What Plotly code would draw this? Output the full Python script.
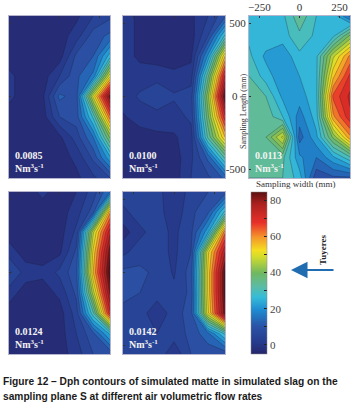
import plotly.graph_objects as go

x_nodes = [-315, -210, -105, 0, 105, 210, 315]
y_nodes = [550, 413, 275, 138, 0, -140, -280, -420, -560]

z_0085 = [
    [-3, -3, -3, -3, -2, 3, 6],
    [-3, -3, -3, -3, 1, 9, 12],
    [-3, -3, -3, -3, 8, 11, 25],
    [0, -3, -3, 3, 10, 16, 50],
    [0, -3, -2, 12, 9, 48, 82],
    [-3, -3, -3, 7, 9, 28, 62],
    [-3, -3, -3, -2, 5, 15, 40],
    [-3, -3, -3, -3, 0, 8, 22],
    [-3, -3, -3, -3, -2, 2, 7],
]
z_0100 = [
    [1, -2, -3, -3, -2, 3, 10],
    [1, -2, -3, -3, -3, 7, 28],
    [1, -2, -3, -3, -2, 20, 55],
    [1, 1, 1.5, 0, 1, 34, 72],
    [1, 3.6, 6, 3.6, 5, 42, 84],
    [-1.5, 1, 1.5, 1, 4, 38, 70],
    [-3, -3, -2, -1.5, 1, 32, 55],
    [-3, -3, -3, -3, 2, 12, 32],
    [-3, -3, -3, -3, 3, 6, 12],
]
z_0113 = [
    [26, 26, 26, 34, 27, 26, 14],
    [26, 26, 25, 30, 26, 26, 40],
    [28, 22, 20, 26, 26, 46, 60],
    [31, 25, 20, 23, 26, 54, 68],
    [33, 31, 22, 21, 26, 64, 72],
    [33, 34, 27, 17, 25, 58, 70],
    [33, 35, 48, 13, 22, 40, 58],
    [33, 34, 32, 20, 15, 22, 30],
    [31, 31, 31, 25, 8, 10, 10],
]
z_0124 = [
    [-3, -3, 0, -3, -1, 5, 15],
    [-3, -3, -3, -3, 1, 9, 58],
    [-3, -3, -3, -3, 4, 46, 74],
    [1, -3, -3, -2, 8, 52, 82],
    [8, 1, 0, 4, 10, 55, 86],
    [1, -3, -3, 0, 8, 45, 80],
    [-3, -3, -3, -3, 5, 30, 70],
    [-3, -3, -3, -3, 3, 10, 24],
    [-3, -3, -3, -3, 1, 7, 8],
]
z_0142 = [
    [5, 5, 5, -1, 5, 7, 9],
    [2, 5, 5, 0, 6, 10, 28],
    [-3, 2, 5, 2, 6, 22, 62],
    [2, 5, 5, 2, 7, 50, 75],
    [8, 8, 6, 2.5, 9, 52, 84],
    [8, 7, 5, 4, 8, 52, 84],
    [6, 5, 0, 5, 9, 50, 82],
    [5, 5, 3, 5, 8, 14, 28],
    [5, 7, 6, 0, 7, 8, 8],
]

panels = [z_0085, z_0100, z_0113, z_0124, z_0142]
flow_rates = ["0.0085", "0.0100", "0.0113", "0.0124", "0.0142"]
caption_lines = ["Figure 12 – Dph contours of simulated matte in simulated slag on the",
                 "sampling plane S at different air volumetric flow rates"]
y_tick_values = [-500, 0, 500]
y_tick_labels = ["-500", "0\u00a0\u00a0\u00a0", "500"]
boxes = [(9, 110, 16, 178), (123, 225, 16, 178), (249, 350, 16, 178),
         (9, 110, 192, 354), (123, 225, 192, 354)]
W, H = 356, 402
zmin, zmax = -5, 84.5

scale = [
    [0.0, "#26266b"], [0.07, "#263a8c"], [0.17, "#2a52a6"], [0.27, "#1f8ad0"],
    [0.35, "#35bcd8"], [0.42, "#5cbca2"], [0.50, "#70b860"], [0.60, "#d2dc2c"],
    [0.64, "#f4de20"], [0.72, "#f5962a"], [0.81, "#e8302a"], [0.93, "#a8201e"],
    [1.0, "#5a1010"],
]

fig = go.Figure()
ax_style = dict(showgrid=False, zeroline=False, ticks="inside", ticklen=2, tickwidth=0.6,
                tickcolor="#333", showline=True, linecolor="#b4b4cc", linewidth=1, mirror=True)
serif = "Liberation Serif"
for i, (z, b) in enumerate(zip(panels, boxes)):
    n = "" if i == 0 else str(i + 1)
    show_labels = i == 2
    fig.add_trace(go.Contour(
        x=x_nodes, y=y_nodes[::-1], z=z[::-1], xaxis="x" + n, yaxis="y" + n,
        zmin=zmin, zmax=zmax, colorscale=scale, autocontour=False,
        contours=dict(start=-5, end=85, size=4, coloring="fill", showlines=True),
        line=dict(width=0.5, color="rgba(30,30,50,0.6)", smoothing=0),
        showscale=False, hoverinfo="skip"))
    fig.update_layout({
        "xaxis" + n: dict(domain=[b[0] / W, b[1] / W], range=[-315, 315], anchor="y" + n,
                          side="top", tickvals=[-250, 0, 250], showticklabels=show_labels,
                          tickfont=dict(family=serif, size=11, color="#333"), **ax_style),
        "yaxis" + n: dict(domain=[1 - b[3] / H, 1 - b[2] / H], range=[-560, 550], anchor="x" + n,
                          tickvals=y_tick_values, ticktext=y_tick_labels, showticklabels=show_labels,
                          tickfont=dict(family=serif, size=11, color="#333"), **ax_style),
    })
    fig.add_annotation(xref="paper", yref="paper", x=(b[0] + 4) / W, y=1 - (b[3] - 16) / H,
                       xanchor="left", yanchor="middle", align="left", showarrow=False,
                       text=f"<b>{flow_rates[i]}<br>Nm<sup>3</sup>s<sup>-1</sup></b>",
                       font=dict(family=serif, size=10, color="#f4f4f4"))

# colour bar, carried by an invisible trace that shares the contour scale
fig.add_trace(go.Heatmap(
    z=[[zmin, zmax]], x=[-315, 315], y=[0], xaxis="x", yaxis="y", opacity=0,
    zmin=zmin, zmax=zmax, colorscale=scale, hoverinfo="skip",
    colorbar=dict(x=251 / W, xanchor="left", xpad=0, y=1 - 354 / H, yanchor="bottom", ypad=0,
                  len=162 / H, lenmode="fraction", thickness=16, thicknessmode="pixels",
                  tickvals=[0, 10, 20, 30, 40, 50, 60, 70, 80],
                  ticktext=["0", "", "20", "", "40", "", "60", "", "80"],
                  ticks="inside", ticklen=3, tickwidth=0.6, tickcolor="#222",
                  tickfont=dict(family=serif, size=11, color="#444"),
                  outlinecolor="#888", outlinewidth=0.5)))

fig.add_annotation(xref="paper", yref="paper", x=243 / W, y=1 - 111 / H, xanchor="center", yanchor="middle",
                   text="Sampling Length (mm)", textangle=-90, showarrow=False,
                   font=dict(family=serif, size=8, color="#333"))
fig.add_annotation(xref="paper", yref="paper", x=296 / W, y=1 - 184 / H, xanchor="center", yanchor="middle",
                   text="Sampling width (mm)", showarrow=False, font=dict(family=serif, size=9, color="#333"))
fig.add_annotation(xref="paper", yref="paper", x=323 / W, y=1 - 250 / H, xanchor="center", yanchor="middle",
                   text="<b>Tuyeres</b>", textangle=-90, showarrow=False,
                   font=dict(family=serif, size=9, color="#222"))
fig.add_annotation(xref="paper", yref="paper", axref="pixel", ayref="pixel",
                   x=291 / W, y=1 - 270 / H, ax=44, ay=0, text="",
                   showarrow=True, arrowhead=2, arrowsize=1.5, arrowwidth=2.2, arrowcolor="#1f6cb0")
for line, y_px in zip(caption_lines, [381, 396]):
    fig.add_annotation(xref="paper", yref="paper", x=1 / W, y=1 - y_px / H, xanchor="left", yanchor="middle",
                       align="left", showarrow=False, text=f"<b>{line}</b>",
                       font=dict(family="Liberation Sans", size=10.2, color="#1a1a1a"))

fig.update_layout(width=W, height=H, margin=dict(l=0, r=0, t=0, b=0), autosize=False,
                  paper_bgcolor="white", plot_bgcolor="white", showlegend=False)
fig.write_html("out.html", config={"displayModeBar": False},
               post_script="document.body.style.margin='0';document.body.style.overflow='hidden';")
